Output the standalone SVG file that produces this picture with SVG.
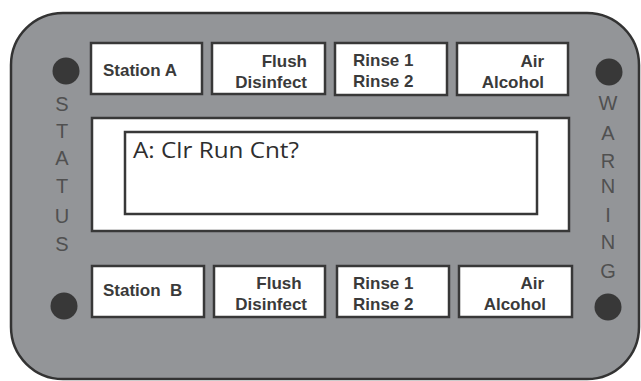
<svg xmlns="http://www.w3.org/2000/svg" width="641" height="381" viewBox="0 0 641 381">
<style>
.btn{fill:#fff;stroke:#383838;stroke-width:2.5}
.bt{font-family:"Liberation Sans",Arial,sans-serif;font-weight:bold;font-size:17px;fill:#3a3a3a}
.side{font-family:"Liberation Sans",Arial,sans-serif;font-size:20px;fill:#505050;text-anchor:middle}
.led{fill:#383838}
</style>
<rect width="641" height="381" fill="#fff"/>
<g id="body">
<rect x="11" y="13" width="628" height="366" rx="52" ry="52" fill="#939598" stroke="#333" stroke-width="2.5"/>
</g>
<g id="led-tl"><circle class="led" cx="66" cy="71" r="13.5"/></g>
<g id="led-tr"><circle class="led" cx="609" cy="72" r="13.5"/></g>
<g id="led-bl"><circle class="led" cx="64" cy="306" r="13.5"/></g>
<g id="led-br"><circle class="led" cx="608" cy="307" r="13.5"/></g>
<g id="status">
<text class="side" x="62" y="111">S</text>
<text class="side" x="62" y="138">T</text>
<text class="side" x="62" y="165">A</text>
<text class="side" x="62" y="193">T</text>
<text class="side" x="62" y="223">U</text>
<text class="side" x="62" y="251">S</text>
</g>
<g id="warning">
<text class="side" x="608" y="110">W</text>
<text class="side" x="608" y="140">A</text>
<text class="side" x="608" y="168">R</text>
<text class="side" x="608" y="193">N</text>
<text class="side" x="608" y="222">I</text>
<text class="side" x="608" y="249">N</text>
<text class="side" x="608" y="278">G</text>
</g>
<g id="display">
<rect x="92" y="118" width="477" height="113" fill="#fff" stroke="#383838" stroke-width="2.5"/>
<rect x="125" y="132" width="412" height="82" fill="#fff" stroke="#383838" stroke-width="2.5"/>
<text x="133" y="158" font-family="'Open Sans','Noto Sans',sans-serif" font-size="22" fill="#2e2e2e" textLength="166" lengthAdjust="spacingAndGlyphs">A: Clr Run Cnt?</text>
</g>
<g id="btn-station-a">
<rect class="btn" x="91" y="43" width="111" height="51"/>
<text class="bt" x="103" y="76">Station A</text>
</g>
<g id="btn-flush-a">
<rect class="btn" x="212" y="43" width="113" height="51"/>
<text class="bt" x="307" y="67" text-anchor="end">Flush</text>
<text class="bt" x="307" y="88" text-anchor="end">Disinfect</text>
</g>
<g id="btn-rinse-a">
<rect class="btn" x="335" y="43" width="112" height="52"/>
<text class="bt" x="353" y="66">Rinse 1</text>
<text class="bt" x="353" y="87">Rinse 2</text>
</g>
<g id="btn-air-a">
<rect class="btn" x="457" y="43" width="111" height="52"/>
<text class="bt" x="544" y="67" text-anchor="end">Air</text>
<text class="bt" x="544" y="88" text-anchor="end">Alcohol</text>
</g>
<g id="btn-station-b">
<rect class="btn" x="92" y="266" width="112" height="51"/>
<text class="bt" x="103" y="296" xml:space="preserve">Station  B</text>
</g>
<g id="btn-flush-b">
<rect class="btn" x="214" y="266" width="111" height="51"/>
<text class="bt" x="279" y="289" text-anchor="middle">Flush</text>
<text class="bt" x="307" y="310" text-anchor="end">Disinfect</text>
</g>
<g id="btn-rinse-b">
<rect class="btn" x="337" y="266" width="112" height="51"/>
<text class="bt" x="353" y="289">Rinse 1</text>
<text class="bt" x="353" y="310">Rinse 2</text>
</g>
<g id="btn-air-b">
<rect class="btn" x="459" y="266" width="113" height="51"/>
<text class="bt" x="544" y="289" text-anchor="end">Air</text>
<text class="bt" x="546" y="310" text-anchor="end">Alcohol</text>
</g>
<g id="connectors"></g>
</svg>
